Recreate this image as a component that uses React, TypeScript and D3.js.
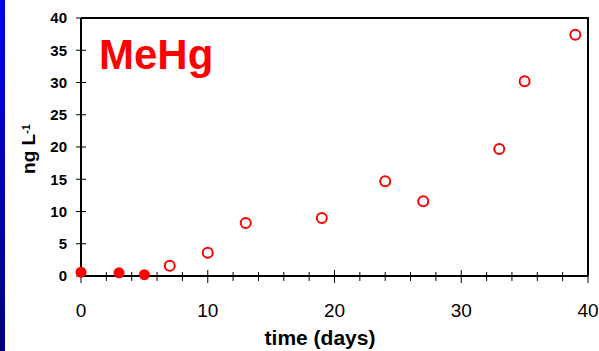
import React, { useRef, useEffect } from "react";
import * as d3 from "d3";

const filledDays = [0, 3, 5];
const filledValues = [0.6, 0.5, 0.2];
const openDays = [7, 10, 13, 19, 24, 27, 33, 35, 39];
const openValues = [1.6, 3.6, 8.2, 9.0, 14.7, 11.6, 19.7, 30.2, 37.4];
const yTicks = [0, 5, 10, 15, 20, 25, 30, 35, 40];
const xTicks = [0, 10, 20, 30, 40];
const xMinorTicks = d3.range(0, 41, 2);

const App = () => {
  const svgRef = useRef<SVGSVGElement>(null);

  useEffect(() => {
    const svg = d3.select(svgRef.current);
    svg.selectAll("*").remove();

    const W = 599;
    const H = 351;
    const margin = { top: 18, right: 11, bottom: 75, left: 81 };
    const width = W - margin.left - margin.right;
    const height = H - margin.top - margin.bottom;

    svg
      .attr("width", W)
      .attr("height", H)
      .style("display", "block")
      .style("position", "absolute")
      .style("left", "0px")
      .style("top", "0px");

    const defs = svg.append("defs");
    const grad = defs
      .append("linearGradient")
      .attr("id", "sideGrad")
      .attr("x1", 0)
      .attr("y1", 0)
      .attr("x2", 0)
      .attr("y2", 1);
    grad.append("stop").attr("offset", "0%").attr("stop-color", "#0000f5");
    grad.append("stop").attr("offset", "100%").attr("stop-color", "#00007a");

    svg.append("rect").attr("width", W).attr("height", H).attr("fill", "#fff");
    svg.append("rect").attr("width", 5).attr("height", H).attr("fill", "url(#sideGrad)");

    const x = d3.scaleLinear().domain([0, 40]).range([0, width]);
    const y = d3.scaleLinear().domain([0, 40]).range([height, 0]);

    const g = svg.append("g").attr("transform", `translate(${margin.left},${margin.top})`);

    // frame: top and right
    g.append("path")
      .attr("d", `M0,0H${width}V${height}`)
      .attr("fill", "none")
      .attr("stroke", "#000")
      .attr("stroke-width", 2);

    // Y axis
    const yAxis = g.append("g");
    yAxis.append("line").attr("x1", 0).attr("x2", 0).attr("y1", 0).attr("y2", height)
      .attr("stroke", "#000").attr("stroke-width", 2);
    yAxis.selectAll("line.tick")
      .data(yTicks)
      .enter()
      .append("line")
      .attr("class", "tick")
      .attr("x1", -5)
      .attr("x2", 5)
      .attr("y1", (d) => y(d))
      .attr("y2", (d) => y(d))
      .attr("stroke", "#000")
      .attr("stroke-width", 1);
    yAxis.selectAll("text")
      .data(yTicks)
      .enter()
      .append("text")
      .attr("x", -14)
      .attr("y", (d) => y(d))
      .attr("dy", "0.36em")
      .attr("text-anchor", "end")
      .style("font-family", "Liberation Sans, Arial, sans-serif")
      .style("font-size", "15px")
      .style("font-weight", "bold")
      .text((d) => d);

    // X axis
    const xAxis = g.append("g").attr("transform", `translate(0,${height})`);
    xAxis.append("line").attr("x1", 0).attr("x2", width).attr("y1", 0).attr("y2", 0)
      .attr("stroke", "#000").attr("stroke-width", 2);
    xAxis.selectAll("line.minor")
      .data(xMinorTicks.filter((d) => d % 10 !== 0))
      .enter()
      .append("line")
      .attr("class", "minor")
      .attr("x1", (d) => x(d))
      .attr("x2", (d) => x(d))
      .attr("y1", -4)
      .attr("y2", 5)
      .attr("stroke", "#000")
      .attr("stroke-width", 1);
    xAxis.selectAll("line.major")
      .data(xTicks)
      .enter()
      .append("line")
      .attr("class", "major")
      .attr("x1", (d) => x(d))
      .attr("x2", (d) => x(d))
      .attr("y1", -6)
      .attr("y2", 7)
      .attr("stroke", "#000")
      .attr("stroke-width", 1);
    xAxis.selectAll("text")
      .data(xTicks)
      .enter()
      .append("text")
      .attr("x", (d) => x(d))
      .attr("y", 41)
      .attr("text-anchor", "middle")
      .style("font-family", "Liberation Sans, Arial, sans-serif")
      .style("font-size", "19px")
      .text((d) => d);

    // points
    g.selectAll("circle.filled")
      .data(filledDays.map((d, i) => ({ d, v: filledValues[i] })))
      .enter()
      .append("circle")
      .attr("class", "filled")
      .attr("cx", (p) => x(p.d))
      .attr("cy", (p) => y(p.v))
      .attr("r", 5.5)
      .attr("fill", "#ff0000");

    g.selectAll("circle.open")
      .data(openDays.map((d, i) => ({ d, v: openValues[i] })))
      .enter()
      .append("circle")
      .attr("class", "open")
      .attr("cx", (p) => x(p.d))
      .attr("cy", (p) => y(p.v))
      .attr("r", 5)
      .attr("fill", "#fff")
      .attr("stroke", "#ff0000")
      .attr("stroke-width", 2);

    // MeHg label
    g.append("text")
      .attr("x", 18)
      .attr("y", 51)
      .style("font-family", "Liberation Sans, Arial, sans-serif")
      .style("font-size", "42px")
      .style("font-weight", "bold")
      .attr("fill", "#ff0000")
      .text("MeHg");

    // axis titles
    svg.append("text")
      .attr("x", 320)
      .attr("y", 345)
      .attr("text-anchor", "middle")
      .style("font-family", "Liberation Sans, Arial, sans-serif")
      .style("font-size", "21px")
      .style("font-weight", "bold")
      .text("time (days)");

    const yt = svg.append("text")
      .attr("transform", `translate(35,149) rotate(-90)`)
      .attr("text-anchor", "middle")
      .style("font-family", "Liberation Sans, Arial, sans-serif")
      .style("font-size", "19px")
      .style("font-weight", "bold");
    yt.append("tspan").text("ng L");
    yt.append("tspan").attr("dy", "-0.45em").style("font-size", "11px").text("-1");
  }, []);

  return <svg ref={svgRef}></svg>;
};

export default App;
